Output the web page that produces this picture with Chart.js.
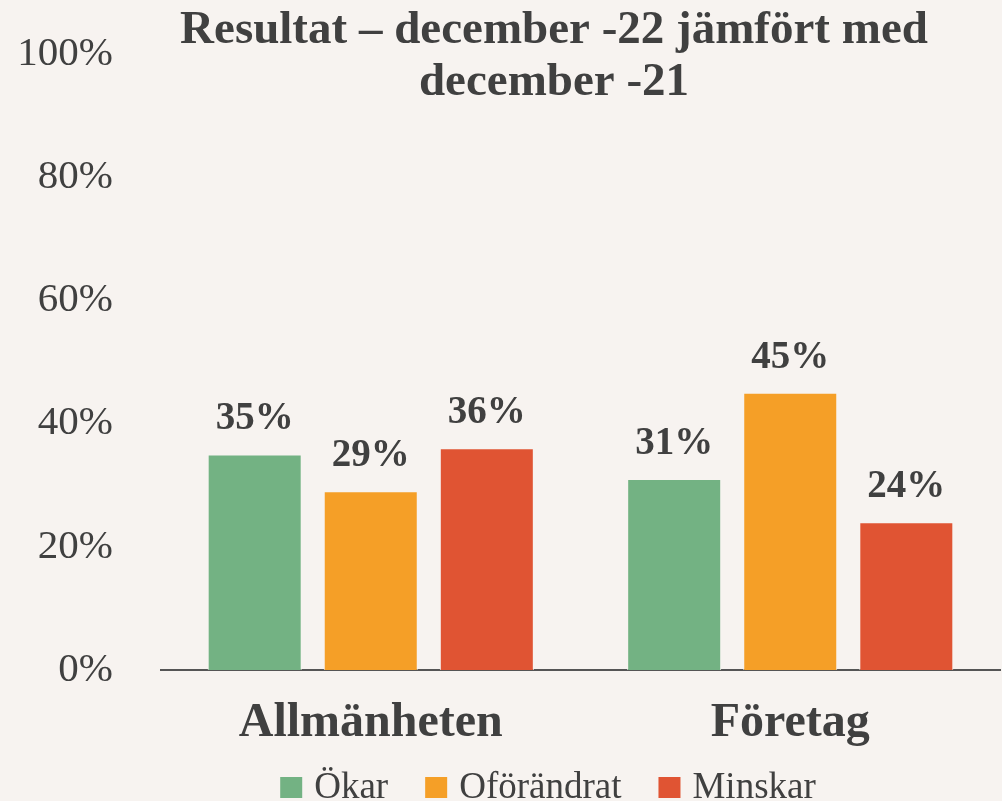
<!DOCTYPE html>
<html>
<head>
<meta charset="utf-8">
<script src="https://cdn.jsdelivr.net/npm/chart.js@4"></script>
<style>
  html, body { margin: 0; padding: 0; background: #f7f3f0; }
  #wrap { width: 1002px; height: 801px; }
</style>
</head>
<body>
<div id="wrap"><canvas id="chart"></canvas></div>
<script>
const categories = ['Allmänheten', 'Företag'];
const seriesNames = ['Ökar', 'Oförändrat', 'Minskar'];
const okar = [35, 31];
const oforandrat = [29, 45];
const minskar = [36, 24];
const colors = ['#73b283', '#f59f27', '#e05433'];
const titleLines = ['Resultat – december -22 jämfört med', 'december -21'];

const FONT = "'Liberation Serif', 'DejaVu Serif', serif";
const TEXT = '#404040';

// titel ritas manuellt så att den ligger bredvid 100%-etiketten
const titlePlugin = {
  id: 'titleText',
  afterDraw(chart) {
    const ctx = chart.ctx;
    ctx.save();
    ctx.font = 'bold 47px ' + FONT;
    ctx.fillStyle = TEXT;
    ctx.textAlign = 'center';
    ctx.textBaseline = 'alphabetic';
    ctx.fillText(titleLines[0], 554, 43);
    ctx.fillText(titleLines[1], 554, 95);
    ctx.restore();
  }
};

// dataetiketter ovanför staplarna
const labelPlugin = {
  id: 'barLabels',
  afterDatasetsDraw(chart) {
    const ctx = chart.ctx;
    ctx.save();
    ctx.font = 'bold 39px ' + FONT;
    ctx.fillStyle = TEXT;
    ctx.textAlign = 'center';
    ctx.textBaseline = 'alphabetic';
    chart.data.datasets.forEach((ds, i) => {
      chart.getDatasetMeta(i).data.forEach((bar, j) => {
        ctx.fillText(ds.data[j] + '%', bar.x, bar.y - 25);
      });
    });
    ctx.restore();
  }
};

// egen förklaring längst ner (centrerad som i originalet)
const legendPlugin = {
  id: 'bottomLegend',
  afterDraw(chart) {
    const ctx = chart.ctx;
    ctx.save();
    ctx.font = '37px ' + FONT;
    ctx.textBaseline = 'alphabetic';
    ctx.textAlign = 'left';
    const box = 22, gapText = 12, gapItem = 37;
    const items = chart.data.datasets.map(ds => ({
      text: ds.label, color: ds.backgroundColor, w: box + gapText + ctx.measureText(ds.label).width
    }));
    const total = items.reduce((s, it) => s + it.w, 0) + gapItem * (items.length - 1);
    let x = 548 - total / 2;
    items.forEach(it => {
      ctx.fillStyle = it.color;
      ctx.fillRect(x, 777, box, 21);
      ctx.fillStyle = TEXT;
      ctx.fillText(it.text, x + box + gapText, 798);
      x += it.w + gapItem;
    });
    ctx.restore();
  }
};

const ctx = document.getElementById('chart');
new Chart(ctx, {
  type: 'bar',
  data: {
    labels: categories,
    datasets: [
      { label: seriesNames[0], data: okar, backgroundColor: colors[0] },
      { label: seriesNames[1], data: oforandrat, backgroundColor: colors[1] },
      { label: seriesNames[2], data: minskar, backgroundColor: colors[2] }
    ].map(d => Object.assign(d, {
      borderColor: '#f7f3f0', borderWidth: 1,
      categoryPercentage: 0.83, barPercentage: 0.81
    }))
  },
  options: {
    responsive: true,
    maintainAspectRatio: false,
    animation: false,
    layout: { padding: { top: 54, right: 2, left: 0, bottom: 0 } },
    plugins: {
      title: { display: false },
      tooltip: { enabled: false },
      legend: { display: false }
    },
    scales: {
      x: {
        grid: { display: false },
        border: { display: true, color: '#555555', width: 2 },
        ticks: { color: TEXT, font: { family: FONT, size: 48, weight: 'bold' }, padding: 17 },
        afterFit: s => { s.height = 131; }
      },
      y: {
        min: 0, max: 100,
        grid: { display: false },
        border: { display: false },
        ticks: {
          stepSize: 20, color: TEXT, padding: 40,
          font: { family: FONT, size: 41 },
          callback: v => v + '%'
        },
        // tick-padding ska inte trycka ner diagramytan
        afterFit: s => { s.width = 161; s.paddingTop = 0; s.paddingBottom = 0; }
      }
    }
  },
  plugins: [titlePlugin, labelPlugin, legendPlugin]
});
</script>
</body>
</html>
